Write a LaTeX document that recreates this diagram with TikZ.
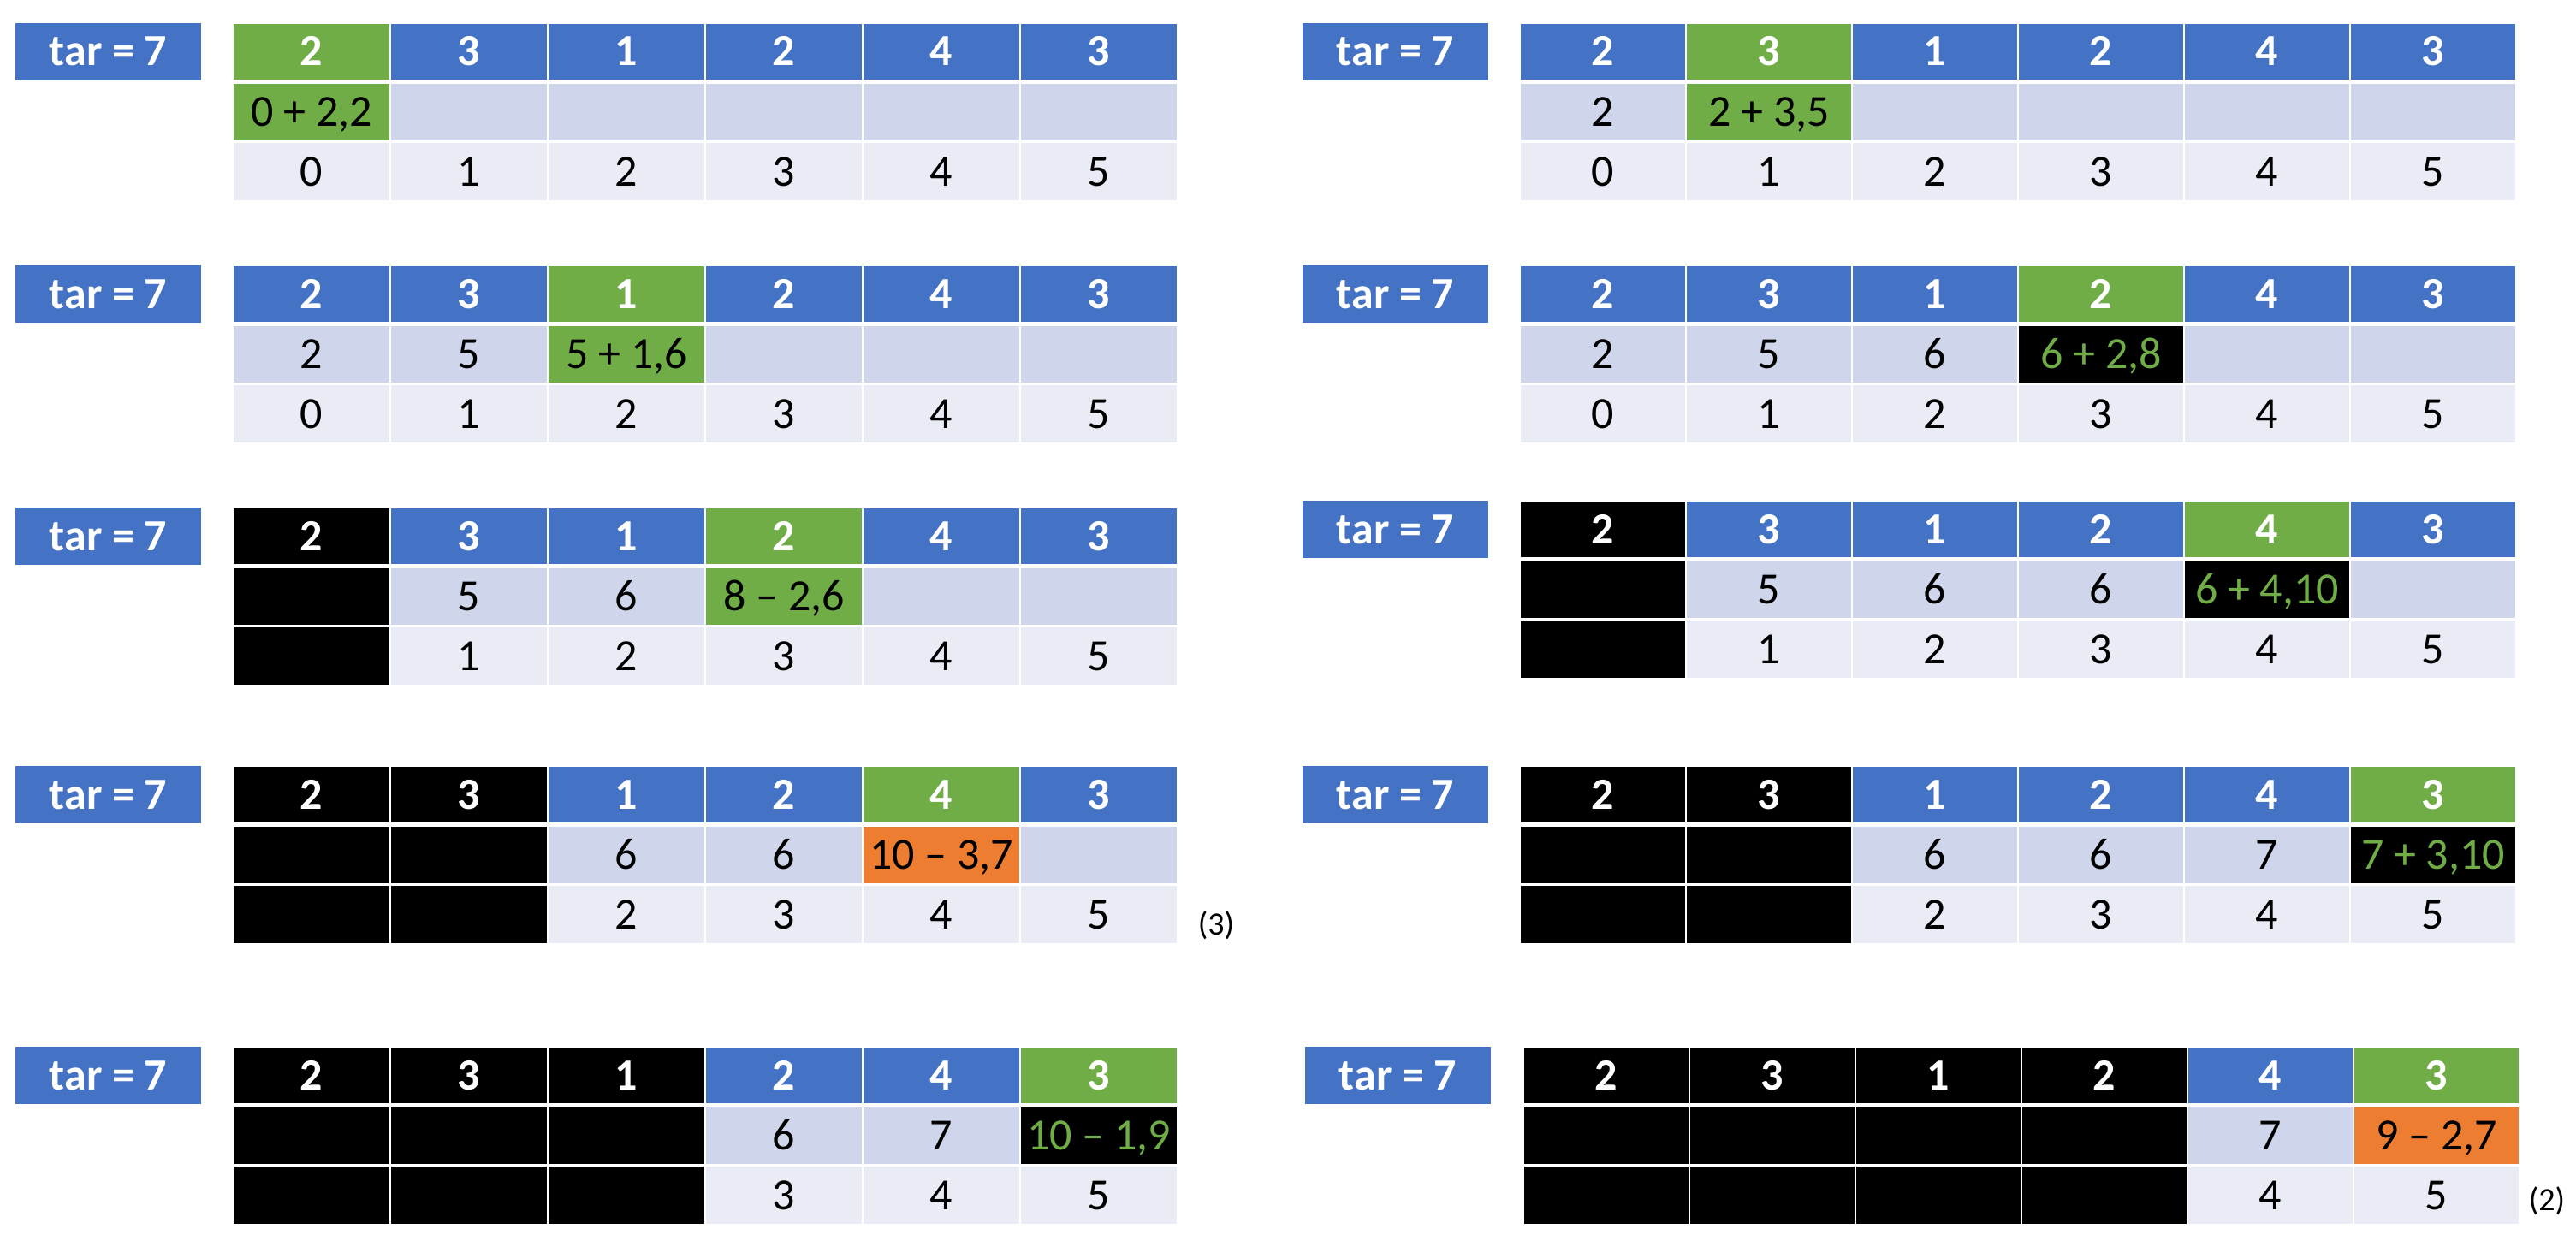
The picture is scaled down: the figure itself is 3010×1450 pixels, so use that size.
\documentclass[tikz,border=0pt]{standalone}
\usepackage{fontspec}
\setmainfont{Carlito}
\definecolor{hblue}{HTML}{4472C4}
\definecolor{hgreen}{HTML}{70AD47}
\definecolor{horange}{HTML}{ED7D31}
\definecolor{rowa}{HTML}{CFD5EA}
\definecolor{rowb}{HTML}{E9EBF5}
\tikzset{
  cellbase/.style={draw=white, line width=1.5pt, inner sep=0pt, outer sep=0pt, anchor=north west,
    text height=33pt, text depth=0pt, font=\fontsize{52}{60}\selectfont},
  hb/.style={cellbase, fill=hblue, text=white, font=\fontsize{52}{60}\selectfont\bfseries},
  hg/.style={cellbase, fill=hgreen, text=white, font=\fontsize{52}{60}\selectfont\bfseries},
  hk/.style={cellbase, fill=black, text=white, font=\fontsize{52}{60}\selectfont\bfseries},
  ra/.style={cellbase, fill=rowa, text=black},
  rb/.style={cellbase, fill=rowb, text=black},
  cg/.style={cellbase, fill=hgreen, text=black},
  co/.style={cellbase, fill=horange, text=black},
  ck/.style={cellbase, fill=black},
  kg/.style={cellbase, fill=black, text=hgreen},
  tarbox/.style={fill=hblue, text=white, inner sep=0pt, outer sep=0pt, anchor=north west,
    text height=33pt, text depth=0pt, font=\fontsize{52}{60}\selectfont\bfseries,
    minimum width=217pt, minimum height=67pt},
  lab/.style={font=\fontsize{38}{44}\selectfont, text=black, inner sep=0pt}
}
\newcommand\myblock[8]{%
  \node[tarbox] (#5tar) at (#1,#4) {tar = 7};
  \foreach \s/\t [count=\i from 0] in {#6}{%
    \node[\s, minimum width=#3 pt, minimum height=67pt] (#5h\i) at ({#2+\i*#3},#4) {\t};}
  \foreach \s/\t [count=\i from 0] in {#7}{%
    \node[\s, minimum width=#3 pt, minimum height=68pt] (#5m\i) at ({#2+\i*#3},{#4+70}) {\t};}
  \foreach \s/\t [count=\i from 0] in {#8}{%
    \node[\s, minimum width=#3 pt, minimum height=69pt] (#5b\i) at ({#2+\i*#3},{#4+139}) {\t};}
}
\begin{document}
\begin{tikzpicture}[x=1pt,y=-1pt]
\useasboundingbox (0,0) rectangle (3010,1450);
% row 1
\myblock{18}{272}{184}{27}{a}{hg/2,hb/3,hb/1,hb/2,hb/4,hb/3}{cg/{0 + 2,2},ra/,ra/,ra/,ra/,ra/}{rb/0,rb/1,rb/2,rb/3,rb/4,rb/5}
\myblock{1522}{1776}{194}{27}{b}{hb/2,hg/3,hb/1,hb/2,hb/4,hb/3}{ra/2,cg/{2 + 3,5},ra/,ra/,ra/,ra/}{rb/0,rb/1,rb/2,rb/3,rb/4,rb/5}
% row 2
\myblock{18}{272}{184}{310}{c}{hb/2,hb/3,hg/1,hb/2,hb/4,hb/3}{ra/2,ra/5,cg/{5 + 1,6},ra/,ra/,ra/}{rb/0,rb/1,rb/2,rb/3,rb/4,rb/5}
\myblock{1522}{1776}{194}{310}{d}{hb/2,hb/3,hb/1,hg/2,hb/4,hb/3}{ra/2,ra/5,ra/6,kg/{6 + 2,8},ra/,ra/}{rb/0,rb/1,rb/2,rb/3,rb/4,rb/5}
% row 3
\myblock{18}{272}{184}{593}{e}{hk/2,hb/3,hb/1,hg/2,hb/4,hb/3}{ck/,ra/5,ra/6,cg/{8 – 2,6},ra/,ra/}{ck/,rb/1,rb/2,rb/3,rb/4,rb/5}
\myblock{1522}{1776}{194}{585}{f}{hk/2,hb/3,hb/1,hb/2,hg/4,hb/3}{ck/,ra/5,ra/6,ra/6,kg/{6 + 4,10},ra/}{ck/,rb/1,rb/2,rb/3,rb/4,rb/5}
% row 4
\myblock{18}{272}{184}{895}{g}{hk/2,hk/3,hb/1,hb/2,hg/4,hb/3}{ck/,ck/,ra/6,ra/6,co/{10 – 3,7},ra/}{ck/,ck/,rb/2,rb/3,rb/4,rb/5}
\myblock{1522}{1776}{194}{895}{h}{hk/2,hk/3,hb/1,hb/2,hb/4,hg/3}{ck/,ck/,ra/6,ra/6,ra/7,kg/{7 + 3,10}}{ck/,ck/,rb/2,rb/3,rb/4,rb/5}
% row 5
\myblock{18}{272}{184}{1223}{i}{hk/2,hk/3,hk/1,hb/2,hb/4,hg/3}{ck/,ck/,ck/,ra/6,ra/7,kg/{10 – 1,9}}{ck/,ck/,ck/,rb/3,rb/4,rb/5}
\myblock{1525}{1780}{194}{1223}{j}{hk/2,hk/3,hk/1,hk/2,hb/4,hg/3}{ck/,ck/,ck/,ck/,ra/7,co/{9 – 2,7}}{ck/,ck/,ck/,ck/,rb/4,rb/5}
% labels
\node[lab] (lab3) at (1421,1081) {(3)};
\node[lab] (lab2) at (2976,1403) {(2)};
\end{tikzpicture}
\end{document}
